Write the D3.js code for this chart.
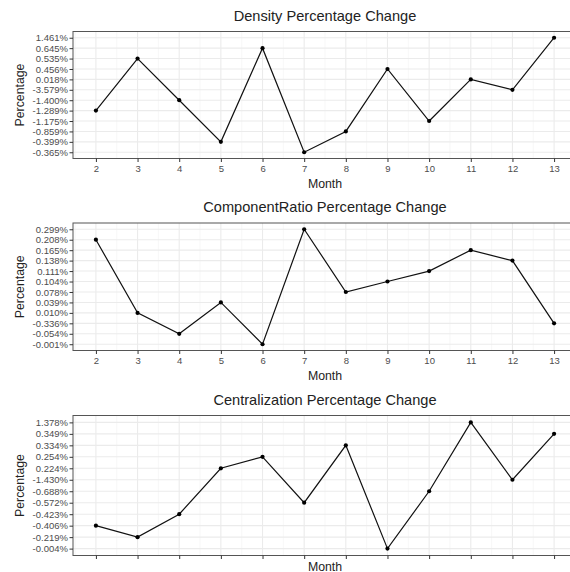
<!doctype html>
<html lang="en">
<head>
<meta charset="utf-8" />
<title>Percentage Change</title>
<script src="https://cdn.jsdelivr.net/npm/d3@7"></script>
<style>
	html, body { margin: 0; padding: 0; background: #fff; }
	svg { display: block; font-family: "Liberation Sans", Arial, sans-serif; }
</style>
</head>
<body>
<div id="chart"></div>
<script>
	const months = [2, 3, 4, 5, 6, 7, 8, 9, 10, 11, 12, 13];

	// y levels, listed top to bottom as they appear on the axis
	const densityLevels = ["1.461%", "0.645%", "0.535%", "0.456%", "0.018%", "-3.579%", "-1.400%", "-1.289%", "-1.175%", "-0.859%", "-0.399%", "-0.365%"];
	const densityValues = ["-1.289%", "0.535%", "-1.400%", "-0.399%", "0.645%", "-0.365%", "-0.859%", "0.456%", "-1.175%", "0.018%", "-3.579%", "1.461%"];

	const ratioLevels = ["0.299%", "0.208%", "0.165%", "0.138%", "0.111%", "0.104%", "0.078%", "0.039%", "0.010%", "-0.336%", "-0.054%", "-0.001%"];
	const ratioValues = ["0.208%", "0.010%", "-0.054%", "0.039%", "-0.001%", "0.299%", "0.078%", "0.104%", "0.111%", "0.165%", "0.138%", "-0.336%"];

	const centralLevels = ["1.378%", "0.349%", "0.334%", "0.254%", "0.224%", "-1.430%", "-0.688%", "-0.572%", "-0.423%", "-0.406%", "-0.219%", "-0.004%"];
	const centralValues = ["-0.406%", "-0.219%", "-0.423%", "0.224%", "0.254%", "-0.572%", "0.334%", "-0.004%", "-0.688%", "1.378%", "-1.430%", "0.349%"];

	const panels = [
		{ title: "Density Percentage Change", levels: densityLevels, values: densityValues, top: 31.5, bottom: 158.5, xLabels: true },
		{ title: "ComponentRatio Percentage Change", levels: ratioLevels, values: ratioValues, top: 223, bottom: 350.5, xLabels: true },
		{ title: "Centralization Percentage Change", levels: centralLevels, values: centralValues, top: 415.5, bottom: 555.5, xLabels: false }
	];

	const WIDTH = 570;
	const HEIGHT = 572;
	const LEFT = 73;
	const RIGHT = 577; // panel runs past the right edge of the picture

	const svg = d3.select("#chart").append("svg").attr("width", WIDTH).attr("height", HEIGHT);

	const x = d3.scaleLinear().domain([2 - 0.55, 13 + 0.55]).range([LEFT, RIGHT]);
	const minorBreaks = d3.range(2.5, 13, 1).concat([1.5, 13.5]);

	panels.forEach((p) => {
		const y = d3.scalePoint().domain(p.levels).range([p.top, p.bottom]).padding(0.6);
		const g = svg.append("g");

		// grid
		g.append("g").selectAll("line").data(minorBreaks).join("line")
			.attr("x1", (d) => x(d)).attr("x2", (d) => x(d))
			.attr("y1", p.top).attr("y2", p.bottom)
			.attr("stroke", "#f2f2f2").attr("stroke-width", 0.6);
		g.append("g").selectAll("line").data(months).join("line")
			.attr("x1", (d) => x(d)).attr("x2", (d) => x(d))
			.attr("y1", p.top).attr("y2", p.bottom)
			.attr("stroke", "#ebebeb").attr("stroke-width", 1.1);
		g.append("g").selectAll("line").data(p.levels).join("line")
			.attr("x1", LEFT).attr("x2", RIGHT)
			.attr("y1", (d) => y(d)).attr("y2", (d) => y(d))
			.attr("stroke", "#ebebeb").attr("stroke-width", 1.1);

		// panel border
		g.append("rect")
			.attr("x", LEFT).attr("y", p.top)
			.attr("width", RIGHT - LEFT).attr("height", p.bottom - p.top)
			.attr("fill", "none").attr("stroke", "#555").attr("stroke-width", 1);

		// axes
		const yAxis = g.append("g").attr("transform", `translate(${LEFT},0)`)
			.call(d3.axisLeft(y).tickSize(3.5).tickPadding(1.5));
		const xAxis = g.append("g").attr("transform", `translate(0,${p.bottom})`)
			.call(d3.axisBottom(x).tickValues(months).tickSize(3.5).tickPadding(3)
				.tickFormat(p.xLabels ? d3.format("d") : () => ""));
		[yAxis, xAxis].forEach((a) => {
			a.select(".domain").remove();
			a.selectAll(".tick line").attr("stroke", "#333").attr("stroke-width", 1);
			a.selectAll(".tick text").attr("fill", "#4d4d4d").style("font-size", "9.5px");
		});

		// line + points
		const pts = months.map((m, i) => ({ m, v: p.values[i] }));
		g.append("path").datum(pts)
			.attr("fill", "none").attr("stroke", "#111").attr("stroke-width", 1.2)
			.attr("d", d3.line().x((d) => x(d.m)).y((d) => y(d.v)));
		g.append("g").selectAll("circle").data(pts).join("circle")
			.attr("cx", (d) => x(d.m)).attr("cy", (d) => y(d.v))
			.attr("r", 2.1).attr("fill", "#000");

		// titles
		g.append("text")
			.attr("x", (LEFT + RIGHT) / 2).attr("y", p.top - 11)
			.attr("text-anchor", "middle").attr("fill", "#222")
			.style("font-size", "14.6px").text(p.title);
		g.append("text")
			.attr("x", (LEFT + RIGHT) / 2).attr("y", p.xLabels ? p.bottom + 29 : p.bottom + 15)
			.attr("text-anchor", "middle").attr("fill", "#222")
			.style("font-size", "12.3px").text("Month");
		g.append("text")
			.attr("transform", `translate(23.5,${(p.top + p.bottom) / 2}) rotate(-90)`)
			.attr("text-anchor", "middle").attr("fill", "#222")
			.style("font-size", "12.3px").text("Percentage");
	});
</script>
</body>
</html>
